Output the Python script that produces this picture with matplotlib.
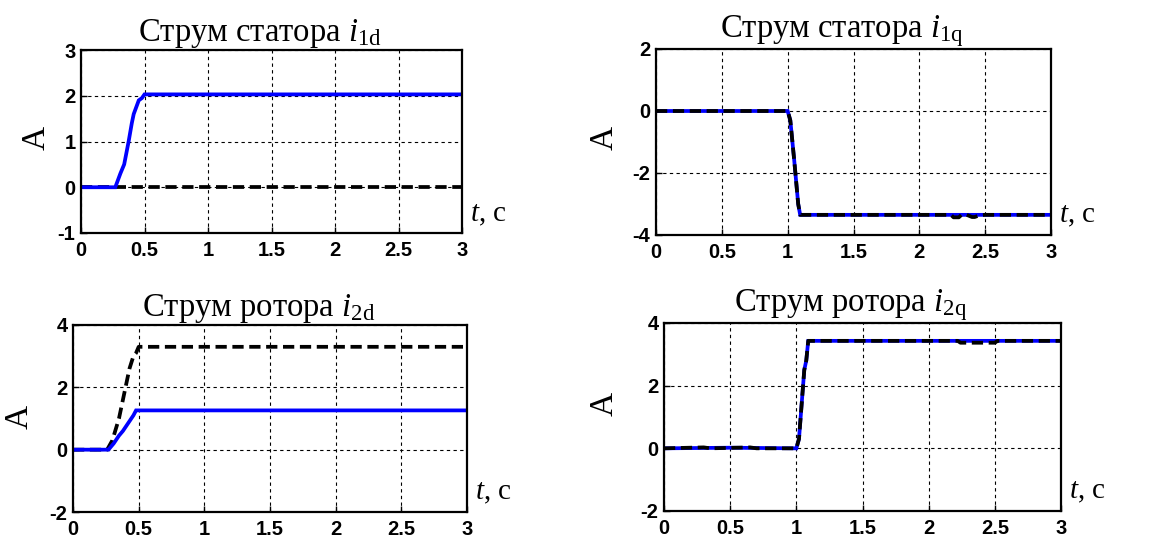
import matplotlib
matplotlib.use("Agg")
from matplotlib import pyplot as plt

plt.rcParams['mathtext.fontset'] = 'custom'
plt.rcParams['mathtext.rm'] = 'Liberation Serif'
plt.rcParams['mathtext.it'] = 'Liberation Serif:italic'

# stator current, d axis
t_1d = [0, 0.27, 0.31, 0.34, 0.375, 0.40, 0.415, 0.455, 0.48, 0.50, 3.0]
i1d_model = [0, 0, 0.3, 0.5, 1.0, 1.4, 1.6, 1.9, 1.95, 2.03, 2.03]
t_1d_ref = [0, 3.0]
i1d_ref = [0, 0]

# stator current, q axis
t_1q = [0, 1.0, 1.02, 1.05, 1.08, 1.095, 3.0]
i1q_model = [0, 0, -0.3, -1.6, -3.0, -3.35, -3.35]
t_1q_ref = [0, 1.0, 1.02, 1.05, 1.08, 1.095, 2.24, 2.26, 2.3, 2.32, 2.36, 2.4, 2.42, 2.46, 2.5, 3.0]
i1q_ref = [0, 0, -0.3, -1.6, -3.0, -3.35, -3.35, -3.43, -3.43, -3.35, -3.35, -3.42, -3.42, -3.36, -3.35, -3.35]

# rotor current, d axis
t_2d = [0, 0.27, 0.31, 0.35, 0.38, 0.42, 0.46, 0.48, 3.0]
i2d_model = [0, 0, 0.2, 0.45, 0.6, 0.85, 1.1, 1.26, 1.26]
t_2d_ref = [0, 0.26, 0.30, 0.35, 0.40, 0.43, 0.46, 0.48, 0.50, 3.0]
i2d_ref = [0, 0, 0.3, 1.0, 2.0, 2.6, 3.0, 3.1, 3.3, 3.3]

# rotor current, q axis
t_2q = [0, 0.5, 1.0, 1.02, 1.04, 1.06, 1.075, 1.09, 3.0]
i2q_model = [0, 0.02, 0, 0.3, 1.4, 2.5, 2.8, 3.43, 3.43]
t_2q_ref = [0, 0.3, 0.35, 0.65, 0.7, 1.0, 1.02, 1.04, 1.06, 1.075, 1.09, 2.22, 2.24, 2.5, 2.52, 3.0]
i2q_ref = [0, 0.03, 0, 0.03, 0, 0, 0.3, 1.4, 2.5, 2.8, 3.43, 3.43, 3.37, 3.37, 3.43, 3.43]

x_ticks = [0, 0.5, 1, 1.5, 2, 2.5, 3]
x_labels = ['0', '0.5', '1', '1.5', '2', '2.5', '3']

W, H = 1171, 546


def make_axes(fig, left, right, top, bottom):
    return fig.add_axes([left / W, (H - bottom) / H, (right - left) / W, (bottom - top) / H])


def style_axes(ax, ylim, yticks, title, ylab_x, ylab_y):
    ax.set_xlim(0, 3)
    ax.set_ylim(*ylim)
    ax.set_xticks(x_ticks)
    ax.set_xticklabels(x_labels)
    ax.set_yticks(yticks)
    ax.set_yticklabels([str(v) for v in yticks])
    for lab in ax.get_xticklabels() + ax.get_yticklabels():
        lab.set_fontfamily('Liberation Sans')
        lab.set_fontweight('bold')
        lab.set_fontsize(14.5)
    ax.tick_params(direction='in', length=4, width=1)
    ax.tick_params(axis='x', pad=6)
    ax.tick_params(axis='y', pad=4)
    ax.grid(True, color='black', linestyle=(0, (3, 3)), linewidth=0.8)
    for sp in ax.spines.values():
        sp.set_linewidth(1.6)
    ax.set_title(title, fontfamily='Liberation Serif', fontsize=23.5, pad=5, x=0.47)
    ax.text(ylab_x, ylab_y, 'A', transform=ax.transAxes, rotation=90,
            ha='center', va='center', fontfamily='Liberation Serif', fontsize=24)
    ax.text(1.02, 0.1, r'$\mathit{t}$, с', transform=ax.transAxes,
            ha='left', va='center', fontfamily='Liberation Serif', fontsize=21)


fig = plt.figure(figsize=(W / 100, H / 100), dpi=100)

blue = dict(color='#0000ff', linewidth=2.7, solid_joinstyle='miter')
black = dict(color='black', linewidth=2.7, linestyle=(0, (3.0, 1.5)))

ax1 = make_axes(fig, 81, 462, 50, 233)
ax1.plot(t_1d_ref, i1d_ref, **black)
ax1.plot(t_1d, i1d_model, **blue)
style_axes(ax1, (-1, 3), [-1, 0, 1, 2, 3], r'Струм статора $\mathit{i}_{\mathrm{1d}}$', -0.118, 0.52)

ax2 = make_axes(fig, 656, 1051, 49, 235)
ax2.plot(t_1q, i1q_model, **blue)
ax2.plot(t_1q_ref, i1q_ref, **black)
style_axes(ax2, (-4, 2), [-4, -2, 0, 2], r'Струм статора $\mathit{i}_{\mathrm{1q}}$', -0.13, 0.52)

ax3 = make_axes(fig, 73, 467, 325, 512)
ax3.plot(t_2d_ref, i2d_ref, **black)
ax3.plot(t_2d, i2d_model, **blue)
style_axes(ax3, (-2, 4), [-2, 0, 2, 4], r'Струм ротора $\mathit{i}_{\mathrm{2d}}$', -0.135, 0.51)

ax4 = make_axes(fig, 664, 1061, 323, 511)
ax4.plot(t_2q, i2q_model, **blue)
ax4.plot(t_2q_ref, i2q_ref, **black)
style_axes(ax4, (-2, 4), [-2, 0, 2, 4], r'Струм ротора $\mathit{i}_{\mathrm{2q}}$', -0.149, 0.57)

fig.savefig('out.png', dpi=100)
